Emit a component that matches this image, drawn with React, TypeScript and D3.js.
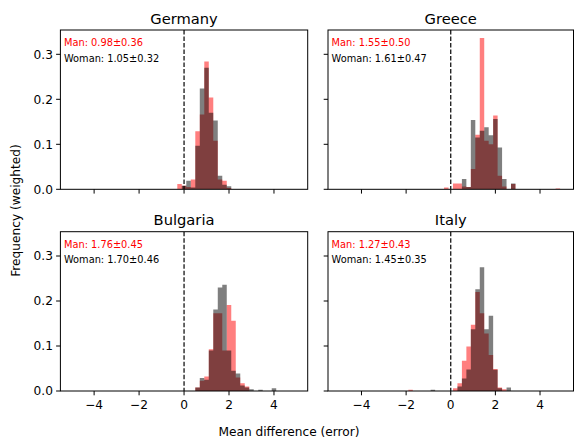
import React from 'react';
import * as d3 from 'd3';

// ---------- data ----------
const countries = ['Germany', 'Greece', 'Bulgaria', 'Italy'];
const binWidth = 0.2;

const germanyStart = -0.2;
const germanyMan = [0.012, 0.008, 0.005, 0.022, 0.129, 0.166, 0.284, 0.204, 0.108, 0.022, 0.019, 0.003];
const germanyWoman = [0, 0.008, 0.019, 0.004, 0.097, 0.224, 0.27, 0.17, 0.153, 0.03, 0.01, 0.007];

const greeceStart = -0.2;
const greeceMan = [0.004, 0, 0.013, 0.013, 0.006, 0.005, 0.045, 0.121, 0.336, 0.108, 0.1, 0.164, 0.03, 0.006, 0, 0.012,
  0, 0, 0, 0, 0, 0, 0, 0, 0, 0.002];
const greeceWoman = [0, 0, 0, 0, 0.023, 0.005, 0.154, 0.115, 0.13, 0.138, 0.12, 0.156, 0.093, 0.023, 0, 0.013,
  0, 0, 0, 0, 0, 0, 0, 0, 0, 0];

const bulgariaStart = 0.6;
const bulgariaMan = [0.008, 0.023, 0.032, 0.093, 0.173, 0.173, 0.09, 0.191, 0.156, 0.03, 0.017, 0.01, 0, 0, 0, 0, 0, 0];
const bulgariaWoman = [0.008, 0.029, 0.025, 0.09, 0.181, 0.23, 0.236, 0.09, 0.045, 0.039, 0.012, 0.008, 0.004, 0, 0.003, 0, 0, 0.006];

const italyStart = -1.8;
const italyMan = [0.003, 0, 0, 0, 0, 0, 0, 0, 0, 0, 0.006, 0.017, 0.067, 0.099, 0.147, 0.22, 0.173, 0.128, 0.08, 0.049, 0.008, 0.004, 0];
const italyWoman = [0, 0, 0, 0, 0, 0.003, 0, 0, 0, 0, 0, 0.01, 0.028, 0.048, 0.137, 0.226, 0.275, 0.137, 0.167, 0.047, 0.006, 0, 0.008];

const starts = [germanyStart, greeceStart, bulgariaStart, italyStart];
const manSeries = [germanyMan, greeceMan, bulgariaMan, italyMan];
const womanSeries = [germanyWoman, greeceWoman, bulgariaWoman, italyWoman];
const manStats = ['0.98±0.36', '1.55±0.50', '1.76±0.45', '1.27±0.43'];
const womanStats = ['1.05±0.32', '1.61±0.47', '1.70±0.46', '1.45±0.35'];

const xTicks = [-4, -2, 0, 2, 4];
const yTicks = [0, 0.1, 0.2, 0.3];
const xDomain: [number, number] = [-5.5, 5.5];
const yDomain: [number, number] = [0, 0.354];

// ---------- layout ----------
const W = 574;
const H = 438;
const cols = [{ left: 60.4, right: 307.7 }, { left: 328, right: 573.5 }];
const rows = [{ top: 30, bottom: 189.3 }, { top: 231.7, bottom: 391 }];
const FONT = 'DejaVu Sans, sans-serif';
const fmtTick = (v: number) => (v < 0 ? '\u2212' + Math.abs(v) : String(v));

function Panel({ idx }: { idx: number }) {
  const r = Math.floor(idx / 2);
  const c = idx % 2;
  const { left, right } = cols[c];
  const { top, bottom } = rows[r];
  const x = d3.scaleLinear().domain(xDomain).range([left, right]);
  const y = d3.scaleLinear().domain(yDomain).range([bottom, top]);
  const start = starts[idx];
  const barsPath = (vals: number[]) => {
    const p = d3.path();
    vals.forEach((v, i) => {
      if (v <= 0) return;
      const center = start + i * binWidth;
      const x0 = x(center - binWidth / 2);
      const x1 = x(center + binWidth / 2);
      p.rect(x0, y(v), x1 - x0, y(0) - y(v));
    });
    return p.toString();
  };
  const tickLen = 4.3;
  return (
    <g>
      <clipPath id={'clip' + idx}>
        <rect x={left} y={top} width={right - left} height={bottom - top} />
      </clipPath>
      <g clipPath={`url(#clip${idx})`}>
        <path d={barsPath(manSeries[idx])} fill="#ff0000" fillOpacity={0.5} />
        <path d={barsPath(womanSeries[idx])} fill="#000000" fillOpacity={0.5} />
        <line x1={x(0)} x2={x(0)} y1={top} y2={bottom} stroke="#000" strokeWidth={1.2} strokeDasharray="4.5 2" />
      </g>
      <rect x={left} y={top} width={right - left} height={bottom - top} fill="none" stroke="#000" strokeWidth={1} />
      {xTicks.map((t) => (
        <g key={'xt' + t}>
          <line x1={x(t)} x2={x(t)} y1={bottom} y2={bottom + tickLen} stroke="#000" strokeWidth={1} />
          {r === 1 && (
            <text x={x(t)} y={bottom + 17.8} textAnchor="middle" fontSize={12.2} fontFamily={FONT} fill="#000">
              {fmtTick(t)}
            </text>
          )}
        </g>
      ))}
      {yTicks.map((t) => (
        <g key={'yt' + t}>
          <line x1={left - tickLen} x2={left} y1={y(t)} y2={y(t)} stroke="#000" strokeWidth={1} />
          {c === 0 && (
            <text x={left - 7.5} y={y(t)} dy="0.36em" textAnchor="end" fontSize={12.2} fontFamily={FONT} fill="#000">
              {t.toFixed(1)}
            </text>
          )}
        </g>
      ))}
      <text x={(left + right) / 2} y={top - 6.5} textAnchor="middle" fontSize={14.7} fontFamily={FONT} fill="#000">
        {countries[idx]}
      </text>
      <text x={left + 3.6} y={top + 16} fontSize={9.8} fontFamily={FONT} fill="#ff0000">
        {'Man: ' + manStats[idx]}
      </text>
      <text x={left + 3.6} y={top + 31.7} fontSize={9.8} fontFamily={FONT} fill="#000">
        {'Woman: ' + womanStats[idx]}
      </text>
    </g>
  );
}

export default function App() {
  return (
    <svg width={W} height={H} style={{ position: 'absolute', left: 0, top: 0, background: '#fff' }}>
      <rect x={0} y={0} width={W} height={H} fill="#fff" />
      {countries.map((_, i) => (
        <Panel key={i} idx={i} />
      ))}
      <text
        transform={`translate(20,210.5) rotate(-90)`}
        textAnchor="middle"
        fontSize={12.2}
        fontFamily={FONT}
        fill="#000"
      >
        Frequency (weighted)
      </text>
      <text x={289} y={436} textAnchor="middle" fontSize={12.2} fontFamily={FONT} fill="#000">
        Mean difference (error)
      </text>
    </svg>
  );
}
